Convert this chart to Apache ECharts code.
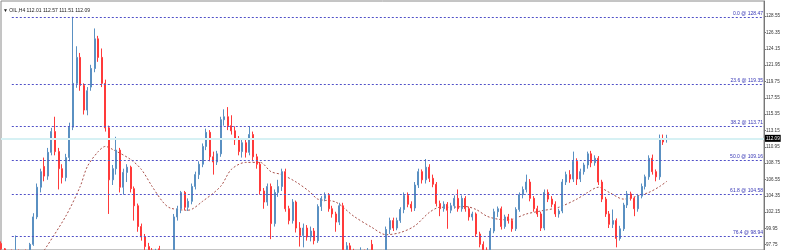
<!DOCTYPE html>
<html>
<head>
<meta charset="utf-8">
<script src="https://cdn.jsdelivr.net/npm/echarts@6/dist/echarts.min.js"></script>
<style>
html,body{margin:0;padding:0;background:#fff}
#chart{width:787px;height:250px}
</style>
</head>
<body>
<div id="chart"></div>
<script>
// OIL,H4 candles
var opens = [
97.9,97.2,96.5,96.9,96.6,96.9,96.5,96.8,96.7,97.8,
101.5,105.5,108.3,107.0,110.2,113.0,110.3,108.0,106.8,109.5,
113.6,119.5,123.0,119.2,115.9,119.0,121.5,125.5,123.0,119.5,
113.5,106.5,108.0,110.5,105.5,107.5,108.2,105.3,103.0,100.2,
98.8,97.5,97.0,96.4,97.2,96.5,96.0,95.6,96.2,101.5,
102.6,104.8,102.8,103.6,105.6,107.2,108.6,111.0,112.9,109.6,
108.9,110.0,114.6,115.0,113.8,113.1,111.9,110.3,111.5,110.2,
112.6,109.6,108.6,105.0,103.5,105.6,100.6,104.8,105.6,107.6,
102.6,101.0,103.5,100.0,99.0,100.0,98.8,99.6,98.3,102.9,
104.0,104.4,102.6,101.9,100.8,103.0,97.0,97.6,96.8,96.2,
96.5,96.9,96.3,97.8,96.6,96.2,96.5,96.1,99.8,101.0,
100.0,101.0,102.5,104.4,103.2,102.7,105.8,107.6,106.5,108.2,
106.7,105.9,103.3,102.6,103.2,102.4,103.0,104.0,102.6,104.0,
102.6,101.5,101.9,99.2,97.8,97.0,96.6,99.6,102.2,102.6,
100.2,101.5,101.0,99.9,102.5,104.5,105.2,106.2,104.0,102.6,
101.9,100.0,104.8,103.9,103.2,101.9,102.3,106.2,107.2,106.6,
109.0,106.6,107.6,108.5,110.0,108.8,109.4,106.2,103.9,101.9,
100.5,101.0,98.6,99.9,103.1,104.6,104.0,102.6,104.3,105.6,
106.9,109.4,107.6,106.9,112.0,112.01
];
var closes = [
97.2,96.5,96.9,96.6,96.9,96.5,96.8,96.7,97.8,101.5,
105.5,107.6,107.0,110.2,113.0,110.3,108.0,106.8,109.5,113.6,
119.5,123.0,119.2,115.9,118.5,121.5,125.5,123.0,119.5,113.5,
106.5,108.0,110.5,105.5,107.5,108.2,105.3,103.0,100.2,98.8,
97.5,97.0,96.4,96.8,96.5,96.0,95.6,96.2,101.5,102.6,
104.8,102.8,103.6,105.6,107.2,108.6,111.0,112.9,109.6,108.9,
110.0,114.6,115.0,113.8,113.1,111.9,110.3,111.5,110.2,112.6,
109.6,108.6,105.0,103.5,105.6,100.6,104.8,105.6,107.6,102.6,
101.0,103.5,100.0,99.0,100.0,98.8,99.6,98.3,102.9,104.0,
104.4,102.6,101.9,100.8,103.0,97.0,97.6,96.8,96.2,96.5,
96.9,96.3,96.9,96.6,96.2,96.5,96.1,99.8,101.0,100.0,
101.0,102.5,104.4,103.2,102.7,105.8,107.6,106.5,108.2,106.7,
105.9,103.3,102.6,103.2,102.4,103.0,104.0,102.6,104.0,102.6,
101.5,101.9,99.2,97.8,97.0,96.6,99.6,102.2,102.6,100.2,
101.5,101.0,99.9,102.5,104.5,105.2,106.2,104.0,102.6,101.9,
100.0,104.8,103.9,103.2,101.9,102.3,106.2,107.2,106.6,109.0,
106.6,107.6,108.5,110.0,108.8,109.4,106.2,103.9,101.9,100.5,
101.0,98.6,99.9,103.1,104.6,104.0,102.6,104.3,105.6,106.9,
109.4,107.6,106.9,111.9,111.6,112.09
];
var lows = [
96.8,96.0,96.2,96.3,96.2,96.1,96.0,96.2,96.5,97.6,
101.2,104.8,106.3,106.5,109.8,109.8,105.2,106.0,106.3,109.0,
113.2,118.9,118.5,115.3,115.2,118.5,121.0,122.4,119.0,113.0,
101.9,105.8,107.2,104.8,104.5,106.2,104.8,101.0,99.5,98.3,
97.0,96.3,95.8,95.9,96.0,95.5,95.0,95.2,96.0,101.0,
102.0,102.4,102.3,103.2,105.2,106.6,108.2,110.5,109.0,107.2,
108.5,109.6,113.8,113.2,112.6,111.2,109.8,109.5,109.5,109.8,
109.0,108.0,104.5,102.6,103.0,98.5,100.2,104.2,105.0,102.2,
100.5,100.6,99.4,97.5,97.4,98.3,98.2,97.8,98.0,102.3,
103.6,102.2,101.4,99.5,100.4,96.5,96.6,96.3,95.8,95.5,
95.8,95.8,95.9,96.2,95.5,95.4,95.6,95.8,99.2,99.6,
99.7,100.7,102.0,102.8,102.2,102.3,105.4,106.0,106.0,106.2,
105.5,102.9,101.6,102.2,99.9,102.0,102.6,102.2,102.2,102.2,
101.0,101.0,98.8,97.4,96.6,96.0,96.3,99.3,101.5,99.8,
99.9,100.6,99.5,99.6,102.2,104.0,104.8,103.6,102.2,101.5,
99.6,99.7,103.5,102.8,101.5,101.4,102.0,105.8,106.1,106.2,
105.8,106.2,107.2,108.0,108.2,108.4,105.8,103.5,101.5,100.0,
100.0,97.4,98.3,99.6,102.7,103.7,101.6,102.2,104.0,105.2,
106.5,107.2,106.3,106.5,111.2,111.51
];
var highs = [
98.2,97.3,97.0,97.1,99.0,97.1,97.0,97.1,98.0,102.0,
106.0,108.0,109.5,110.8,113.5,115.0,110.8,108.6,110.0,114.2,
128.47,124.5,123.6,119.5,119.0,122.0,126.9,125.9,124.2,120.0,
113.8,108.5,112.3,110.8,108.0,108.6,108.4,105.6,103.3,100.6,
99.2,98.0,97.3,97.2,97.6,96.9,96.4,96.8,101.9,103.0,
105.0,105.0,104.0,106.0,107.6,109.0,111.4,113.4,113.2,110.3,
110.4,115.0,116.0,116.3,115.2,113.7,112.4,112.0,111.9,113.7,
113.0,110.0,108.9,105.4,106.0,106.0,105.2,106.5,108.0,108.0,
103.0,103.9,103.7,100.8,100.6,100.4,100.2,100.0,103.2,104.3,
104.8,104.7,103.0,102.2,103.4,103.4,98.1,98.0,97.2,96.9,
97.4,97.1,97.3,98.4,97.0,96.8,96.9,100.2,101.4,101.4,
101.4,102.8,104.8,104.8,103.6,106.2,108.0,107.9,109.3,108.6,
107.2,106.2,103.7,103.6,103.5,103.4,104.4,105.2,104.4,104.3,
102.9,102.2,102.1,99.5,98.2,97.4,100.0,102.6,102.9,102.9,
101.8,101.9,101.3,102.8,104.8,105.6,107.2,106.6,104.3,103.0,
102.2,105.2,105.2,104.3,103.6,102.6,106.6,107.6,107.8,110.3,
109.4,108.0,108.8,110.3,110.4,109.8,109.7,106.5,104.2,102.3,
102.5,101.3,100.3,103.4,105.0,104.9,104.2,104.6,106.0,107.2,
109.8,109.9,107.9,112.6,112.6,112.57
];

// moving average, read at some candles
var maIndex = [12,18,22,24,27,29,31,36,39,42,45,47,52,56,61,64,68,72,75,78,
  82,86,88,93,98,103,107,111,115,119,122,125,129,132,135,138,141,146,150,155,
  160,163,166,169,173,176,180,183,185];
var maValues = [97.0,101.6,105.6,108.3,110.3,111.0,110.6,109.25,107.9,105.6,
  103.5,102.7,102.4,103.6,105.6,107.9,108.85,108.85,107.6,107.2,
  106.2,104.8,103.9,103.5,101.6,100.1,99.1,99.4,100.3,102.1,
  102.8,102.8,102.9,102.5,101.6,101.2,101.1,101.9,102.3,102.8,
  103.9,104.8,105.5,104.8,103.9,104.2,104.8,105.6,106.3];

// fibonacci
var fibRatios = ['0.0','23.6','38.2','50.0','61.8','76.4'];
var fibLevels = [128.47,119.35,113.71,109.16,104.58,98.94];
var fibStart = 3;
var fibLow = 89.83;
var fibHighIdx = 20;

var yTicks = [97.75,99.95,102.15,104.35,106.55,108.75,110.95,113.15,115.35,117.55,119.75,121.95,124.15,126.35,128.55];
var lastPrice = 112.09;
var slotCount = 213;

var cats = [];
for (var i = 0; i < slotCount; i++) cats.push(i);

var candles = [];
for (var i = 0; i < opens.length; i++) {
    candles.push([opens[i], closes[i], lows[i], highs[i]]);
}
var maData = [];
for (var i = 0; i < maIndex.length; i++) {
    maData.push([maIndex[i], maValues[i]]);
}
var fibData = [];
for (var i = 0; i < fibLevels.length; i++) {
    fibData.push([
        {coord: [fibStart, fibLevels[i]], name: fibRatios[i] + ' @ ' + fibLevels[i].toFixed(2)},
        {coord: [slotCount - 1, fibLevels[i]]}
    ]);
}

var myChart = echarts.init(document.getElementById('chart'));
var option = {
    animation: false,
    backgroundColor: '#fff',
    title: {
        text: '\u25BC OIL,H4 112.01 112.57 111.51 112.09',
        left: -2,
        top: 3,
        textStyle: {fontSize: 5, fontWeight: 'normal', color: '#222', fontFamily: 'Liberation Sans'}
    },
    grid: {
        left: 1, right: 23, top: 1, bottom: -1,
        show: true, borderColor: '#8a8a8a', borderWidth: 1
    },
    xAxis: {
        type: 'category',
        data: cats,
        boundaryGap: false,
        show: false
    },
    yAxis: {
        type: 'value',
        position: 'right',
        min: 97.04,
        max: 130.60,
        splitLine: {show: false},
        axisLine: {show: true, lineStyle: {color: '#777'}},
        axisTick: {show: true, length: 2, customValues: yTicks, lineStyle: {color: '#777'}},
        axisLabel: {
            customValues: yTicks,
            fontSize: 4.6,
            color: '#333',
            margin: 2,
            fontFamily: 'Liberation Sans',
            formatter: function (v) { return v.toFixed(2); }
        }
    },
    series: [
        {
            // current price line
            type: 'line',
            data: [],
            z: 1,
            markLine: {
                silent: true,
                symbol: ['none', 'none'],
                lineStyle: {color: '#d6f1f4', width: 2, type: 'solid'},
                label: {
                    position: 'end',
                    distance: 1,
                    formatter: lastPrice.toFixed(2),
                    backgroundColor: '#000',
                    color: '#fff',
                    fontSize: 4.6,
                    padding: [1, 1],
                    fontFamily: 'Liberation Sans'
                },
                data: [{yAxis: lastPrice}]
            }
        },
        {
            type: 'line',
            name: 'fib',
            data: [],
            z: 2,
            markLine: {
                silent: true,
                symbol: ['none', 'none'],
                lineStyle: {color: '#5050c8', width: 1, type: [2, 2]},
                label: {
                    position: 'insideEndTop',
                    distance: 1,
                    formatter: '{b}',
                    color: '#3535b5',
                    fontSize: 5,
                    fontFamily: 'Liberation Sans'
                },
                data: fibData.concat([[
                    {coord: [fibStart, fibLow], lineStyle: {color: '#bcbcdc', type: [1, 2]}, label: {show: false}},
                    {coord: [fibHighIdx, fibLevels[0]]}
                ]])
            }
        },
        {
            type: 'line',
            name: 'MA',
            data: maData,
            symbol: 'none',
            smooth: 0.3,
            z: 3,
            lineStyle: {color: '#a8504a', width: 1, type: [2, 2]}
        },
        {
            type: 'candlestick',
            name: 'OIL,H4',
            data: candles,
            barWidth: 1.5,
            z: 4,
            itemStyle: {
                color: '#4a86bd',
                color0: '#ff2424',
                borderColor: '#5a90c2',
                borderColor0: '#ff3a3a',
                borderWidth: 1
            }
        }
    ]
};
myChart.setOption(option);
</script>
</body>
</html>
